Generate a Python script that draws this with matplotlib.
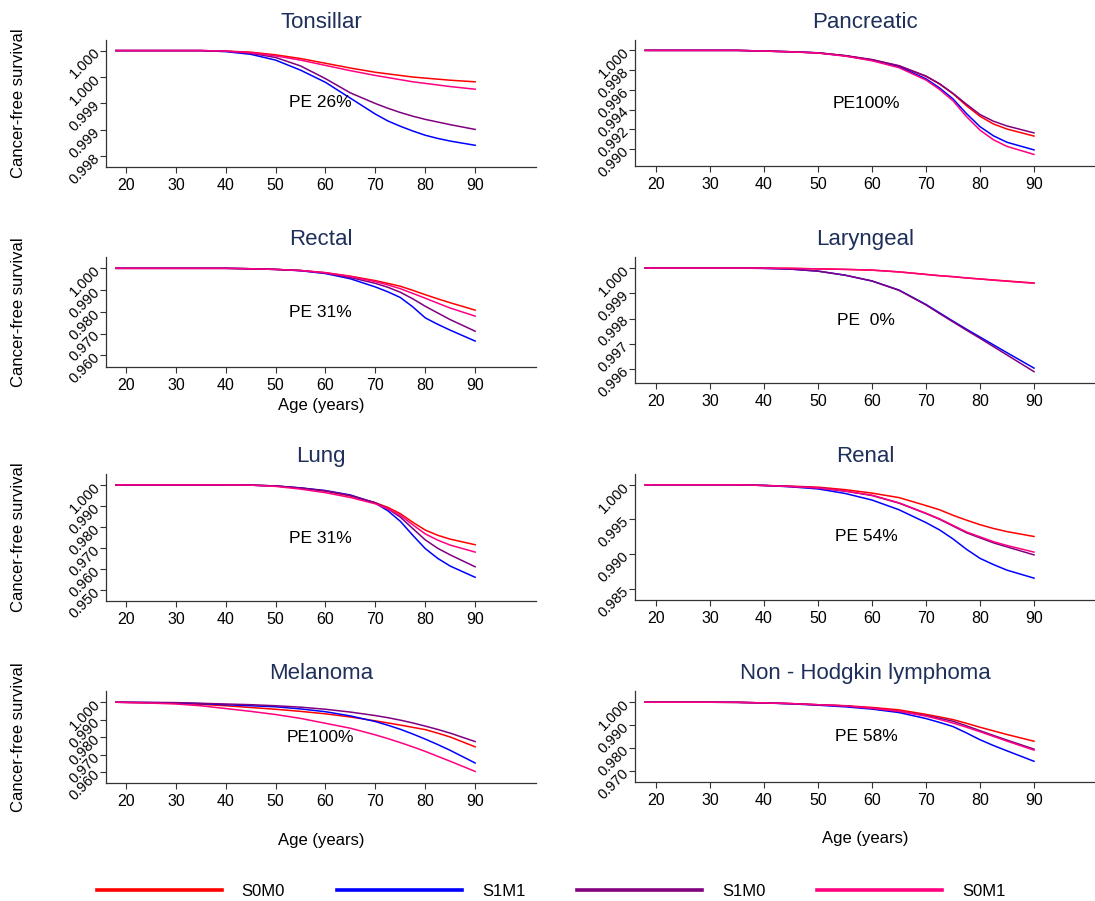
import matplotlib
matplotlib.use("Agg")
import matplotlib.pyplot as plt
from matplotlib.lines import Line2D

plt.rcParams['font.family'] = ['Liberation Sans', 'DejaVu Sans']

W, H = 1095, 901

ages = [18, 25, 30, 35, 40, 45, 50, 55, 60, 65, 70, 72.5, 75, 77.5, 80, 82.5, 85, 90]
age_ticks = [20, 30, 40, 50, 60, 70, 80, 90]

series = ['S0M0', 'S1M1', 'S1M0', 'S0M1']
colors = {'S0M0': '#ff0000', 'S1M1': '#0000ff', 'S1M0': '#800080', 'S0M1': '#ff0080'}

# cancer-free survival by age, one dict per site
tonsillar = {
    'S0M0': [1, 1, 1, 1, 0.99999, 0.99997, 0.99992, 0.99985, 0.99976, 0.99967, 0.99959, 0.99956, 0.99953, 0.9995, 0.99948, 0.99946, 0.99944, 0.99941],
    'S1M1': [1, 1, 1, 1, 0.99998, 0.99993, 0.99982, 0.99963, 0.9994, 0.9991, 0.9988, 0.99867, 0.99857, 0.99848, 0.9984, 0.99834, 0.99829, 0.99821],
    'S1M0': [1, 1, 1, 1, 0.99999, 0.99995, 0.99987, 0.99971, 0.99947, 0.9992, 0.999, 0.99891, 0.99883, 0.99876, 0.9987, 0.99865, 0.9986, 0.99851],
    'S0M1': [1, 1, 1, 1, 0.99999, 0.99996, 0.9999, 0.99982, 0.99972, 0.99962, 0.99953, 0.99949, 0.99945, 0.99941, 0.99938, 0.99935, 0.99932, 0.99927],
}
pancreatic = {
    'S0M0': [1, 1, 1, 1, 0.99993, 0.99986, 0.99975, 0.99947, 0.99905, 0.99842, 0.99737, 0.9966, 0.99561, 0.9944, 0.99333, 0.99255, 0.99204, 0.99133],
    'S1M1': [1, 1, 1, 1, 0.99993, 0.99986, 0.99975, 0.99945, 0.999, 0.99835, 0.99712, 0.9962, 0.99509, 0.9936, 0.99228, 0.99135, 0.9907, 0.98993],
    'S1M0': [1, 1, 1, 1, 0.99993, 0.99986, 0.99975, 0.99947, 0.99907, 0.99845, 0.9974, 0.99663, 0.99565, 0.99455, 0.99351, 0.99283, 0.99235, 0.99165],
    'S0M1': [1, 1, 1, 1, 0.99993, 0.99985, 0.99973, 0.99942, 0.99895, 0.99825, 0.997, 0.99605, 0.9949, 0.9933, 0.99193, 0.99095, 0.99028, 0.98947],
}
rectal = {
    'S0M0': [1, 1, 1, 1, 1, 0.9998, 0.9995, 0.999, 0.998, 0.9964, 0.99435, 0.9931, 0.99177, 0.9899, 0.9879, 0.986, 0.9842, 0.98081],
    'S1M1': [1, 1, 1, 1, 1, 0.9998, 0.9995, 0.9989, 0.9976, 0.9952, 0.99145, 0.9892, 0.98661, 0.9823, 0.97726, 0.9743, 0.97161, 0.96661],
    'S1M0': [1, 1, 1, 1, 1, 0.9998, 0.9995, 0.999, 0.9978, 0.9958, 0.9931, 0.9913, 0.98903, 0.986, 0.98258, 0.9795, 0.97645, 0.97113],
    'S0M1': [1, 1, 1, 1, 1, 0.9998, 0.9995, 0.999, 0.998, 0.9962, 0.9939, 0.9924, 0.99065, 0.9885, 0.98629, 0.984, 0.98177, 0.97806],
}
laryngeal = {
    'S0M0': [1, 1, 1, 1, 1, 0.99999, 0.99997, 0.99995, 0.99992, 0.99985, 0.99975, 0.9997, 0.99966, 0.99961, 0.99957, 0.99953, 0.99949, 0.99941],
    'S1M1': [1, 1, 1, 1, 0.99999, 0.99996, 0.99988, 0.99972, 0.99949, 0.99913, 0.99856, 0.99823, 0.9979, 0.99758, 0.99727, 0.99696, 0.99665, 0.99604],
    'S1M0': [1, 1, 1, 1, 0.99999, 0.99996, 0.99988, 0.99972, 0.99949, 0.99912, 0.99854, 0.9982, 0.99787, 0.99754, 0.99722, 0.99689, 0.99656, 0.9959],
    'S0M1': [1, 1, 1, 1, 1, 0.99999, 0.99997, 0.99995, 0.99992, 0.99985, 0.99975, 0.9997, 0.99966, 0.99961, 0.99957, 0.99952, 0.99948, 0.9994],
}
lung = {
    'S0M0': [1, 1, 1, 1, 1, 0.9999, 0.9995, 0.9985, 0.997, 0.9947, 0.9915, 0.9893, 0.98633, 0.9822, 0.9785, 0.976, 0.97417, 0.9715],
    'S1M1': [1, 1, 1, 1, 1, 0.9999, 0.9995, 0.9986, 0.9973, 0.9952, 0.9913, 0.9877, 0.98267, 0.976, 0.96967, 0.965, 0.96133, 0.956],
    'S1M0': [1, 1, 1, 1, 1, 0.9999, 0.9995, 0.9985, 0.9972, 0.995, 0.9915, 0.9886, 0.98467, 0.9792, 0.97383, 0.9698, 0.96667, 0.961],
    'S0M1': [1, 1, 1, 1, 1, 0.9999, 0.9993, 0.998, 0.9963, 0.994, 0.991, 0.9886, 0.9855, 0.981, 0.97667, 0.9737, 0.97133, 0.968],
}
renal = {
    'S0M0': [1, 1, 1, 1, 0.9999, 0.9998, 0.99965, 0.9993, 0.9988, 0.99815, 0.997, 0.9964, 0.9956, 0.9949, 0.99425, 0.9937, 0.99325, 0.99255],
    'S1M1': [1, 1, 1, 1, 0.9999, 0.9997, 0.9994, 0.99875, 0.9978, 0.9964, 0.99455, 0.9935, 0.9922, 0.9907, 0.9894, 0.9885, 0.9877, 0.98655],
    'S1M0': [1, 1, 1, 1, 0.9999, 0.99975, 0.99955, 0.99908, 0.99845, 0.99735, 0.99585, 0.99503, 0.99405, 0.99308, 0.99235, 0.99163, 0.99105, 0.9899],
    'S0M1': [1, 1, 1, 1, 0.9999, 0.99975, 0.99955, 0.9991, 0.9985, 0.9974, 0.9959, 0.9951, 0.99415, 0.9932, 0.9925, 0.9918, 0.99125, 0.9903],
}
melanoma = {
    'S0M0': [1, 0.9997, 0.9994, 0.9988, 0.998, 0.997, 0.996, 0.9948, 0.9934, 0.9916, 0.9894, 0.9882, 0.987, 0.9857, 0.9844, 0.9824, 0.9802, 0.9746],
    'S1M1': [1, 0.9998, 0.9996, 0.9992, 0.9986, 0.998, 0.9974, 0.9962, 0.9946, 0.9922, 0.989, 0.9869, 0.9846, 0.9819, 0.979, 0.9759, 0.9726, 0.9654],
    'S1M0': [1, 0.9999, 0.9998, 0.9994, 0.999, 0.9986, 0.998, 0.9972, 0.996, 0.9944, 0.9924, 0.9912, 0.9898, 0.9882, 0.9864, 0.9845, 0.9824, 0.9776],
    'S0M1': [1, 0.9995, 0.999, 0.998, 0.9964, 0.9948, 0.993, 0.9908, 0.988, 0.9852, 0.9814, 0.9793, 0.977, 0.9746, 0.972, 0.9692, 0.9664, 0.9606],
}
nhl = {
    'S0M0': [1, 1, 1, 0.99995, 0.9997, 0.9994, 0.9989, 0.9985, 0.99773, 0.99667, 0.9947, 0.9936, 0.99242, 0.9908, 0.98909, 0.9875, 0.98591, 0.983],
    'S1M1': [1, 1, 1, 0.99995, 0.9997, 0.9993, 0.9987, 0.998, 0.997, 0.9955, 0.99288, 0.9912, 0.98939, 0.9866, 0.98364, 0.9811, 0.97879, 0.97424],
    'S1M0': [1, 1, 1, 0.99995, 0.9997, 0.9994, 0.9989, 0.9984, 0.9973, 0.996, 0.9942, 0.993, 0.9917, 0.9897, 0.98758, 0.9855, 0.98348, 0.97955],
    'S0M1': [1, 1, 1, 0.99995, 0.9997, 0.9994, 0.9989, 0.9984, 0.9974, 0.9961, 0.99394, 0.9925, 0.9909, 0.9891, 0.98712, 0.9851, 0.98303, 0.97909],
}

titles = ['Tonsillar', 'Pancreatic', 'Rectal', 'Laryngeal', 'Lung', 'Renal',
          'Melanoma', 'Non - Hodgkin lymphoma']
pe_labels = ['PE 26%', 'PE100%', 'PE 31%', 'PE  0%', 'PE 31%', 'PE 54%', 'PE100%', 'PE 58%']
pe_y = [0.99901, 0.99467, 0.9797, 0.99792, 0.97467, 0.9925, 0.980, 0.98515]
panels = [tonsillar, pancreatic, rectal, laryngeal, lung, renal, melanoma, nhl]

y_ticks = [
    [0.998, 0.9985, 0.999, 0.9995, 1.0],
    [0.990, 0.992, 0.994, 0.996, 0.998, 1.0],
    [0.96, 0.97, 0.98, 0.99, 1.0],
    [0.996, 0.997, 0.998, 0.999, 1.0],
    [0.95, 0.96, 0.97, 0.98, 0.99, 1.0],
    [0.985, 0.990, 0.995, 1.0],
    [0.96, 0.97, 0.98, 0.99, 1.0],
    [0.97, 0.98, 0.99, 1.0],
]
y_labels = [
    ['0.998', '0.999', '0.999', '1.000', '1.000'],
    None, None, None, None, None, None, None,
]
y_lims = [(0.9978, 1.0002), (0.9883, 1.00105), (0.9547, 1.0052), (0.99545, 1.00044),
          (0.9447, 1.0052), (0.9834, 1.00155), (0.954, 1.0064), (0.9652, 1.0049)]

# axes boxes in pixels: left, right, top, bottom
boxes = [
    (106, 536, 40, 167), (635, 1095, 40, 166),
    (106, 536, 257, 367), (635, 1095, 257, 383),
    (106, 536, 474, 601), (635, 1095, 474, 600),
    (106, 536, 691, 783), (635, 1095, 691, 782),
]
x_lims = [(16, 102.2), (16.1, 101.3)]

fig = plt.figure(figsize=(W / 100, H / 100), dpi=100)

for i, data in enumerate(panels):
    x0, x1, y0, y1 = boxes[i]
    ax = fig.add_axes([x0 / W, 1 - y1 / H, (x1 - x0) / W, (y1 - y0) / H])
    for s in series:
        ax.plot(ages, data[s], color=colors[s], lw=1.1)
    ax.set_xlim(*x_lims[i % 2])
    ax.set_ylim(*y_lims[i])
    ax.set_xticks(age_ticks)
    ax.set_yticks(y_ticks[i])
    if y_labels[i] is not None:
        ax.set_yticklabels(y_labels[i])
    else:
        ax.set_yticklabels(['%.3f' % t for t in y_ticks[i]])
    for lab in ax.get_yticklabels():
        lab.set_rotation(45)
        lab.set_rotation_mode('anchor')
        lab.set_ha('right')
        lab.set_va('center')
    ax.tick_params(axis='x', labelsize=11.5, length=4, width=0.8, color='#333333', pad=4)
    ax.tick_params(axis='y', labelsize=10.5, length=4, width=0.8, color='#333333', pad=2)
    for side in ['top', 'right']:
        ax.spines[side].set_visible(False)
    for side in ['left', 'bottom']:
        ax.spines[side].set_color('#333333')
        ax.spines[side].set_linewidth(0.9)
    ax.set_facecolor('none')
    ax.annotate(titles[i], xy=(0.5, 1), xycoords='axes fraction', xytext=(0, 12.5),
                textcoords='offset points', ha='center', va='center',
                fontsize=16, color='#1e2f5a')
    ax.text(58.9, pe_y[i], pe_labels[i], ha='center', va='center', fontsize=12.5)
    if i % 2 == 0:
        fig.text(19 / W, 1 - (y0 + y1) / 2 / H, 'Cancer-free survival', rotation=90,
                 ha='center', va='center', fontsize=12)

# x axis titles
fig.text(321 / W, 1 - 405 / H, 'Age (years)', ha='center', va='center', fontsize=12)
fig.text(321 / W, 1 - 841 / H, 'Age (years)', ha='center', va='center', fontsize=12)
fig.text(865 / W, 1 - 839 / H, 'Age (years)', ha='center', va='center', fontsize=12)

handles = [Line2D([], [], color=colors[s], lw=2.6) for s in series]
fig.legend(handles, series, loc='center', bbox_to_anchor=(551 / W, 1 - 891 / H),
           ncol=4, frameon=False, fontsize=12, handlelength=7.5, handletextpad=1.2,
           columnspacing=3.1)

fig.savefig('out.png', dpi=100, facecolor='white')
